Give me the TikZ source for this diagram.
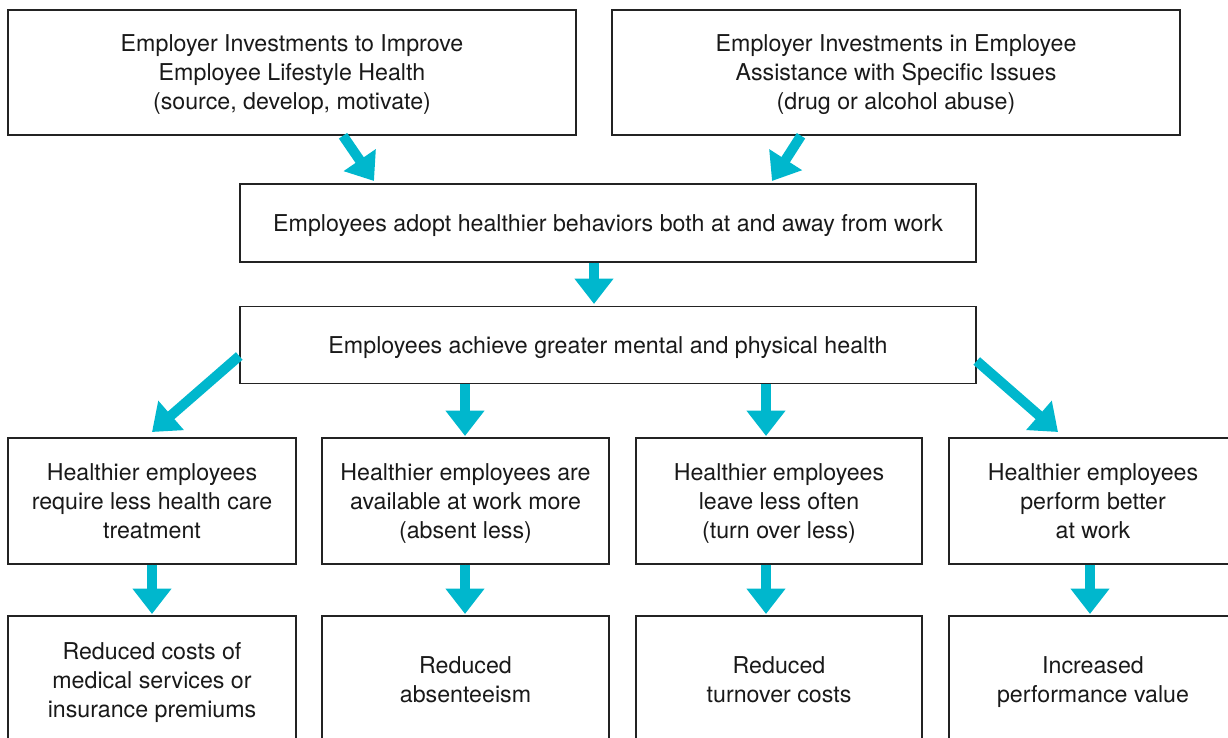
\documentclass[tikz,border=0pt]{standalone}
\usepackage{fontspec}
\setmainfont{TeX Gyre Heros}
\usetikzlibrary{arrows.meta}
\definecolor{arrcyan}{RGB}{0,183,205}
\definecolor{boxline}{RGB}{35,35,35}
\tikzset{
  box/.style={draw=boxline, line width=1.1pt, rectangle, align=center, inner sep=0pt,
    text depth=0pt, font=\fontsize{17.4pt}{21.75pt}\selectfont, text=black!90},
  flow/.style={draw=arrcyan, line width=7.5pt, -{Triangle[width=28pt,length=19pt]}, fill=arrcyan},
}
\begin{document}
\begin{tikzpicture}[x=0.75pt,y=-0.75pt]
\useasboundingbox (0,0) rectangle (1228,738);
\clip (0,0) rectangle (1228,738);
% top row
\node[box, minimum width=568*0.75pt, minimum height=125*0.75pt] (t1) at (292,72.5)
  {Employer Investments to Improve\\Employee Lifestyle Health\\(source, develop, motivate)};
\node[box, minimum width=568*0.75pt, minimum height=125*0.75pt] (t2) at (896,72.5)
  {Employer Investments in Employee\\Assistance with Specific Issues\\(drug or alcohol abuse)};
% middle
\node[box, minimum width=736*0.75pt, minimum height=78*0.75pt] (m1) at (608,223)
  {Employees adopt healthier behaviors both at and away from work};
\node[box, minimum width=736*0.75pt, minimum height=77*0.75pt] (m2) at (608,345)
  {Employees achieve greater mental and physical health};
% row 3
\node[box, minimum width=288*0.75pt, minimum height=126*0.75pt] (r1) at (152,501)
  {Healthier employees\\require less health care\\treatment};
\node[box, minimum width=287*0.75pt, minimum height=126*0.75pt] (r2) at (465.5,501)
  {Healthier employees are\\available at work more\\(absent less)};
\node[box, minimum width=286*0.75pt, minimum height=126*0.75pt] (r3) at (779,501)
  {Healthier employees\\leave less often\\(turn over less)};
\node[box, minimum width=288*0.75pt, minimum height=126*0.75pt] (r4) at (1093,501)
  {Healthier employees\\perform better\\at work};
% row 4
\node[box, minimum width=288*0.75pt, minimum height=128*0.75pt] (b1) at (152,680)
  {Reduced costs of\\medical services or\\insurance premiums};
\node[box, minimum width=287*0.75pt, minimum height=128*0.75pt] (b2) at (465.5,680)
  {Reduced\\absenteeism};
\node[box, minimum width=286*0.75pt, minimum height=128*0.75pt] (b3) at (779,680)
  {Reduced\\turnover costs};
\node[box, minimum width=288*0.75pt, minimum height=128*0.75pt] (b4) at (1093,680)
  {Increased\\performance value};
% connectors
\draw[flow] (t1.south -| 343,0) -- (374,181);
\draw[flow] (t2.south -| 801,0) -- (772,181);
\draw[flow] (m1.south -| 594,0) -- (594,304);
\draw[flow] (m2.west |- 0,356) -- (152,432);
\draw[flow] (m2.east |- 0,361) -- (1058,432);
\draw[flow] (m2.south -| 465,0) -- (465,436);
\draw[flow] (m2.south -| 766,0) -- (766,436);
\draw[flow] (r1.south -| 152,0) -- (152,614);
\draw[flow] (r2.south -| 465,0) -- (465,614);
\draw[flow] (r3.south -| 766,0) -- (766,614);
\draw[flow] (r4.south -| 1090,0) -- (1090,614);
\end{tikzpicture}
\end{document}
